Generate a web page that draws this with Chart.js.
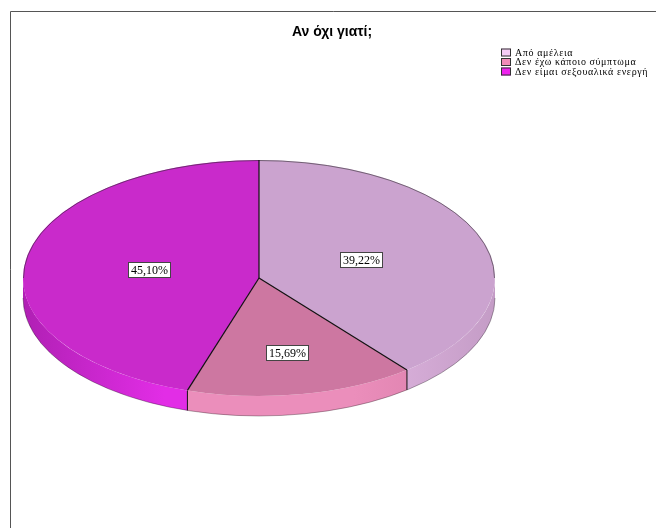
<!DOCTYPE html>
<html>
<head>
<meta charset="utf-8">
<title>Αν όχι γιατί;</title>
<script src="https://cdn.jsdelivr.net/npm/chart.js@4"></script>
<style>
  html, body { margin: 0; padding: 0; background: #fff; }
  #chart { display: block; }
</style>
</head>
<body>
<canvas id="chart" width="656" height="528"></canvas>
<script>
// Answers and their shares (%)
const categories = ['Από αμέλεια', 'Δεν έχω κάποιο σύμπτωμα', 'Δεν είμαι σεξουαλικά ενεργή'];
const shares = [39.22, 15.69, 45.10];
const chartTitle = 'Αν όχι γιατί;';

// legend swatch / lit top face / extruded side colours per slice
const swatchColors = ['#F6CCF6', '#F08AB8', '#EE22EE'];
const topColors = ['#CBA3CF', '#CD77A1', '#C92ACB'];
const sideColors = ['#E0B6E1', '#EB8EBB', '#E22DE6'];
const sideShade = ['#C49CC6', '#D57AA6', '#B020B4'];

const TILT = 0.5;       // vertical squash of the disc
const DEPTH = 20;       // thickness of the disc in px
const CENTER_Y = 278;   // screen y of the disc's top face centre
const labelFrac = [0.46, 0.64, 0.47];

function fmt(v) {
  return v.toFixed(2).replace('.', ',') + '%';
}

const pie3d = {
  id: 'pie3d',
  beforeDraw(chart) {
    const ctx = chart.ctx;
    ctx.save();
    ctx.fillStyle = '#fff';
    ctx.fillRect(0, 0, chart.width, chart.height);
    // frame line on left and top
    ctx.strokeStyle = '#555';
    ctx.lineWidth = 1;
    ctx.beginPath();
    ctx.moveTo(10.5, chart.height);
    ctx.lineTo(10.5, 11.5);
    ctx.lineTo(chart.width, 11.5);
    ctx.stroke();

    // title
    ctx.fillStyle = '#000';
    ctx.font = 'bold 14px "Liberation Sans", Arial, sans-serif';
    ctx.textAlign = 'center';
    ctx.textBaseline = 'alphabetic';
    ctx.fillText(chartTitle, 332, 36);

    // legend
    ctx.font = '10px "Liberation Serif", "DejaVu Serif", serif';
    ctx.textAlign = 'left';
    ctx.textBaseline = 'middle';
    if ('letterSpacing' in ctx) ctx.letterSpacing = '0.6px';
    categories.forEach((name, i) => {
      const y = 52.5 + i * 9.5;
      ctx.fillStyle = swatchColors[i];
      ctx.fillRect(501, y - 4, 10, 8);
      ctx.strokeStyle = '#333';
      ctx.strokeRect(501.5, y - 3.5, 9, 7);
      ctx.fillStyle = '#000';
      ctx.fillText(name, 515, y + 0.5);
    });
    ctx.restore();
  },
  beforeDatasetsDraw(chart) {
    const ctx = chart.ctx;
    const arcs = chart.getDatasetMeta(0).data;
    if (!arcs.length) return;
    const cx = arcs[0].x;
    const R = arcs[0].outerRadius;
    const rx = R, ry = R * TILT;

    ctx.save();
    // sides of the disc: only the front half (angles 0..PI) is visible
    arcs.forEach((arc, i) => {
      const a0 = Math.max(arc.startAngle, 0);
      const a1 = Math.min(arc.endAngle, Math.PI);
      if (a1 <= a0) return;
      const grad = ctx.createLinearGradient(cx - rx, 0, cx + rx, 0);
      grad.addColorStop(0, sideShade[i]);
      grad.addColorStop(0.3, sideColors[i]);
      grad.addColorStop(0.7, sideColors[i]);
      grad.addColorStop(1, sideShade[i]);
      ctx.beginPath();
      ctx.ellipse(cx, CENTER_Y, rx, ry, 0, a0, a1);
      ctx.ellipse(cx, CENTER_Y + DEPTH, rx, ry, 0, a1, a0, true);
      ctx.closePath();
      ctx.fillStyle = grad;
      ctx.fill();
    });
    // soft outline along the bottom rim
    ctx.beginPath();
    ctx.ellipse(cx, CENTER_Y + DEPTH, rx, ry, 0, 0, Math.PI);
    ctx.strokeStyle = 'rgba(0,0,0,0.3)';
    ctx.lineWidth = 1;
    ctx.stroke();
    // vertical edges where slices meet on the visible side
    ctx.strokeStyle = '#111';
    arcs.forEach((arc) => {
      const a = arc.endAngle;
      if (a > 0 && a < Math.PI) {
        const x = cx + rx * Math.cos(a);
        const y = CENTER_Y + ry * Math.sin(a);
        ctx.beginPath();
        ctx.moveTo(x, y);
        ctx.lineTo(x, y + DEPTH);
        ctx.stroke();
      }
    });
    ctx.restore();

    // squash the top face into an ellipse
    ctx.save();
    ctx.translate(0, CENTER_Y);
    ctx.scale(1, TILT);
    ctx.translate(0, -arcs[0].y);
  },
  afterDatasetsDraw(chart) {
    const ctx = chart.ctx;
    ctx.restore();
    const arcs = chart.getDatasetMeta(0).data;
    const values = chart.data.datasets[0].data;
    const cx = arcs[0].x;
    const rx = arcs[0].outerRadius, ry = rx * TILT;

    ctx.save();
    // rim of the far half of the top face
    ctx.beginPath();
    ctx.ellipse(cx, CENTER_Y, rx - 0.5, ry - 0.5, 0, Math.PI, 2 * Math.PI);
    ctx.strokeStyle = 'rgba(40,40,40,0.55)';
    ctx.lineWidth = 1;
    ctx.stroke();
    // slice dividers on the top face
    ctx.strokeStyle = '#111';
    ctx.lineWidth = 1.2;
    arcs.forEach((arc) => {
      const a = arc.startAngle;
      ctx.beginPath();
      ctx.moveTo(cx, CENTER_Y);
      ctx.lineTo(cx + rx * Math.cos(a), CENTER_Y + ry * Math.sin(a));
      ctx.stroke();
    });

    // value labels
    ctx.font = '12px "Liberation Serif", "DejaVu Serif", serif';
    ctx.textAlign = 'center';
    ctx.textBaseline = 'middle';
    arcs.forEach((arc, i) => {
      const mid = (arc.startAngle + arc.endAngle) / 2;
      const r = arc.outerRadius * labelFrac[i];
      const x = arc.x + r * Math.cos(mid);
      const y = CENTER_Y + r * TILT * Math.sin(mid);
      const text = fmt(values[i]);
      const w = Math.round(ctx.measureText(text).width) + 5;
      const h = 15;
      const bx = Math.round(x - w / 2) + 0.5;
      const by = Math.round(y - h / 2) + 0.5;
      ctx.fillStyle = '#fff';
      ctx.fillRect(bx, by, w, h);
      ctx.strokeStyle = '#444';
      ctx.lineWidth = 1;
      ctx.strokeRect(bx, by, w, h);
      ctx.fillStyle = '#000';
      ctx.fillText(text, bx + w / 2, by + h / 2 + 0.5);
    });
    ctx.restore();
  }
};

new Chart(document.getElementById('chart'), {
  type: 'pie',
  data: {
    labels: categories,
    datasets: [{
      data: shares,
      backgroundColor: topColors,
      borderWidth: 0,
      hoverOffset: 0,
      offset: 0,
      clip: false
    }]
  },
  options: {
    responsive: false,
    devicePixelRatio: 1,
    animation: false,
    events: [],
    layout: { padding: { left: 23, right: 161, top: 28, bottom: 28 } },
    plugins: {
      legend: { display: false },
      title: { display: false },
      tooltip: { enabled: false }
    }
  },
  plugins: [pie3d]
});
</script>
</body>
</html>
